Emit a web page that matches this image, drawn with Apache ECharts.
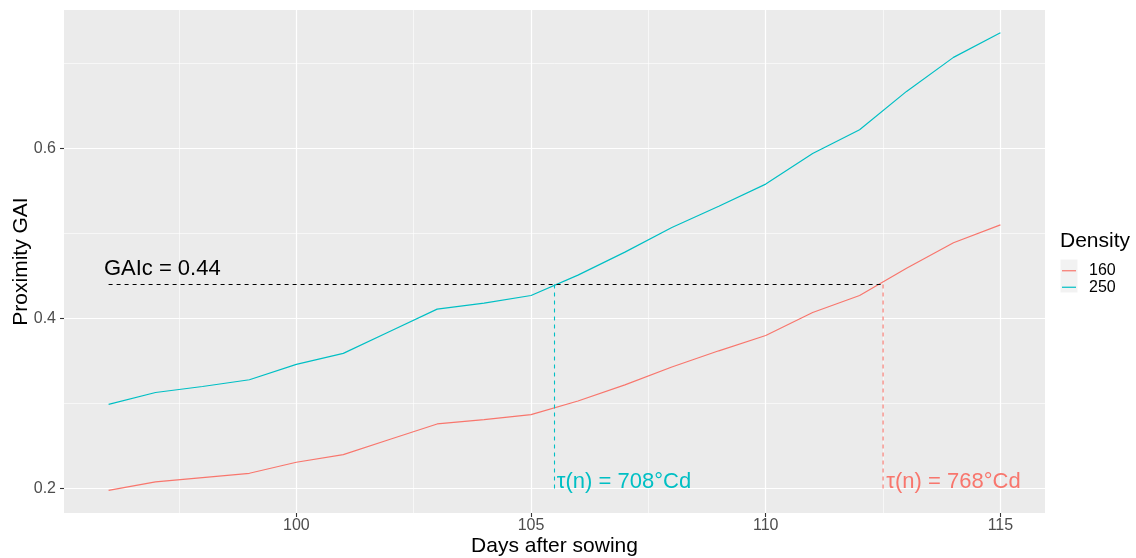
<!DOCTYPE html>
<html>
<head>
<meta charset="utf-8">
<script src="https://cdn.jsdelivr.net/npm/echarts@6/dist/echarts.min.js"></script>
<style>html,body{margin:0;padding:0;background:#fff}#c{width:1136px;height:558px}</style>
</head>
<body>
<div id="c"></div>
<script>
const days = [96,97,98,99,100,101,102,103,104,105,106,107,108,109,110,111,112,113,114,115];
const gai160 = [0.198,0.208,0.213,0.218,0.231,0.240,0.258,0.276,0.281,0.287,0.303,0.322,0.343,0.362,0.380,0.407,0.427,0.459,0.489,0.510];
const gai250 = [0.299,0.313,0.320,0.328,0.346,0.359,0.385,0.411,0.418,0.427,0.451,0.478,0.507,0.532,0.558,0.594,0.622,0.667,0.707,0.736];
const seriesNames = ['160','250'];
const gaiC = 0.44;
const crossDay250 = 105.5;
const crossDay160 = 112.5;
const xTicks = [100,105,110,115];
const xMinor = [97.5,102.5,107.5,112.5];
const yTicks = [0.2,0.4,0.6];
const yMinor = [0.3,0.5,0.7];
const xRange = [95.05,115.95];
const yRange = [0.1713,0.7627];
const labelGAIc = {text:'GAIc = 0.44', x:95.9, y:0.458};
const label250 = {text:'τ(n) = 708°Cd', x:105.55, y:0.208};
const label160 = {text:'τ(n) = 768°Cd', x:112.57, y:0.208};

const RED = '#F8766D', CYAN = '#00BFC4';
const FONT = '"Liberation Sans", Arial, Helvetica, sans-serif';

const chart = echarts.init(document.getElementById('c'), null, {renderer:'canvas'});

function gridLines(){
  const d = [];
  xMinor.forEach(v=>d.push({xAxis:v, lineStyle:{width:0.6}}));
  yMinor.forEach(v=>d.push({yAxis:v, lineStyle:{width:0.6}}));
  xTicks.forEach(v=>d.push({xAxis:v, lineStyle:{width:1.2}}));
  yTicks.forEach(v=>d.push({yAxis:v, lineStyle:{width:1.2}}));
  return d;
}
function textSeries(lab, color){
  return {
    type:'scatter', data:[[lab.x, lab.y]], symbolSize:0, silent:true, z:6,
    itemStyle:{opacity:1},
    label:{show:true, position:[0,0], align:'left', verticalAlign:'middle', opacity:1,
      formatter:lab.text, color:color, fontSize:22, fontFamily:FONT}
  };
}
function seg(pts, color){
  return {type:'line', data:pts, symbol:'none', silent:true, z:4,
    lineStyle:{color:color, width:1.1, type:[4,4]}};
}

chart.setOption({
  animation:false,
  backgroundColor:'#ffffff',
  textStyle:{fontFamily:FONT},
  grid:{left:64, right:91, top:10, bottom:45, show:true, backgroundColor:'#EBEBEB', borderWidth:0,
    containLabel:false, outerBoundsMode:'none'},
  title:{text:'Density', left:1060, top:231, padding:0,
    textStyle:{fontSize:21, fontWeight:'normal', color:'#000', fontFamily:FONT}},
  legend:{
    data:seriesNames, orient:'vertical', left:1062, top:262.5, padding:0,
    icon:'rect', itemWidth:14, itemHeight:1.2, itemGap:0,
    textStyle:{fontSize:16, lineHeight:16.5, color:'#000', fontFamily:FONT, padding:[0,0,0,8]},
    selectedMode:false
  },
  graphic:[{type:'rect', left:1060.5, top:259.5, shape:{width:17, height:33}, style:{fill:'#F2F2F2'}, z:-1}],
  xAxis:{
    type:'value', min:xRange[0], max:xRange[1],
    name:'Days after sowing', nameLocation:'middle', nameGap:23, nameMoveOverlap:false,
    nameTextStyle:{fontSize:21, color:'#000', fontFamily:FONT},
    axisLine:{show:false},
    axisTick:{show:true, customValues:xTicks, length:4, lineStyle:{color:'#333333', width:1.1}},
    axisLabel:{customValues:xTicks, margin:5, fontSize:16, color:'#4D4D4D', fontFamily:FONT},
    splitLine:{show:false}
  },
  yAxis:{
    type:'value', min:yRange[0], max:yRange[1],
    name:'Proximity GAI', nameLocation:'middle', nameGap:32, nameMoveOverlap:false,
    nameTextStyle:{fontSize:21, color:'#000', fontFamily:FONT},
    axisLine:{show:false},
    axisTick:{show:true, customValues:yTicks, length:4, lineStyle:{color:'#333333', width:1.1}},
    axisLabel:{customValues:yTicks, margin:8, fontSize:16, color:'#4D4D4D', fontFamily:FONT,
      formatter:v=>v.toFixed(1)},
    splitLine:{show:false}
  },
  series:[
    {type:'line', data:[], silent:true, z:1,
      markLine:{silent:true, symbol:'none', animation:false, z:1, label:{show:false},
        lineStyle:{color:'#ffffff', type:'solid'}, data:gridLines()}},
    {name:seriesNames[0], type:'line', data:days.map((d,i)=>[d,gai160[i]]), symbol:'none', z:3,
      lineStyle:{color:RED, width:1.2}, itemStyle:{color:RED}},
    {name:seriesNames[1], type:'line', data:days.map((d,i)=>[d,gai250[i]]), symbol:'none', z:3,
      lineStyle:{color:CYAN, width:1.2}, itemStyle:{color:CYAN}},
    seg([[days[0],gaiC],[crossDay160,gaiC]], '#000000'),
    seg([[crossDay250,gaiC],[crossDay250,yTicks[0]]], CYAN),
    seg([[crossDay160,gaiC],[crossDay160,yTicks[0]]], RED),
    textSeries(labelGAIc, '#000000'),
    textSeries(label250, CYAN),
    textSeries(label160, RED)
  ]
});
</script>
</body>
</html>
